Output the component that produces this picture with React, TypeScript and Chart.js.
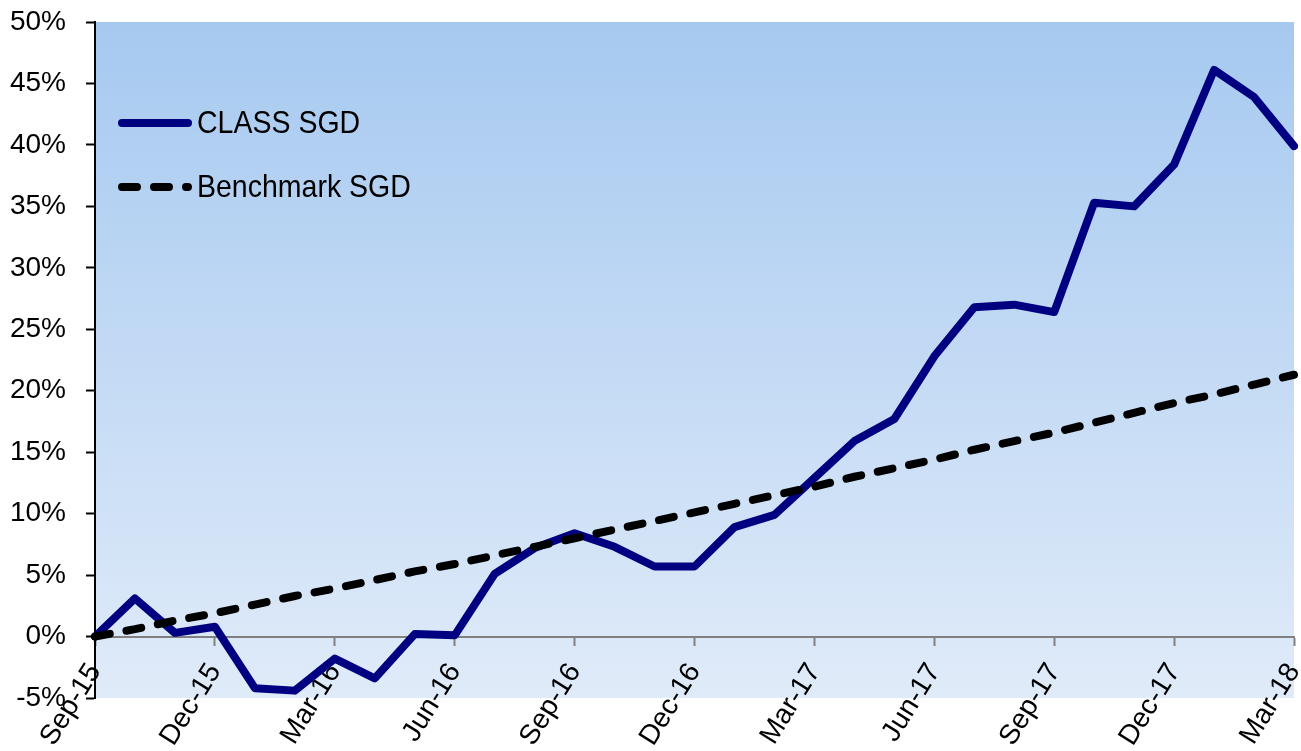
import React, { useEffect, useRef } from 'react';
import { Chart, registerables } from 'chart.js';

Chart.register(...registerables);

const months = [
  'Sep-15', 'Oct-15', 'Nov-15', 'Dec-15', 'Jan-16', 'Feb-16', 'Mar-16', 'Apr-16',
  'May-16', 'Jun-16', 'Jul-16', 'Aug-16', 'Sep-16', 'Oct-16', 'Nov-16', 'Dec-16',
  'Jan-17', 'Feb-17', 'Mar-17', 'Apr-17', 'May-17', 'Jun-17', 'Jul-17', 'Aug-17',
  'Sep-17', 'Oct-17', 'Nov-17', 'Dec-17', 'Jan-18', 'Feb-18', 'Mar-18',
];

const classSgd = [
  0.0, 3.1, 0.3, 0.8, -4.2, -4.4, -1.8, -3.4, 0.2, 0.1, 5.1, 7.2, 8.4, 7.3, 5.7, 5.7,
  8.9, 9.9, 12.9, 15.9, 17.7, 22.8, 26.8, 27.0, 26.4, 35.3, 35.0, 38.4, 46.1, 43.9, 39.9,
];

const benchmarkSgd = [
  0.0, 0.6, 1.3, 1.9, 2.6, 3.3, 3.9, 4.6, 5.3, 5.9, 6.6, 7.3, 8.0, 8.7, 9.4, 10.1,
  10.8, 11.5, 12.2, 13.0, 13.7, 14.4, 15.2, 15.9, 16.6, 17.4, 18.2, 19.0, 19.7, 20.5, 21.3,
];

const seriesNames = ['CLASS SGD', 'Benchmark SGD'];

const FONT = "'Liberation Sans', Arial, sans-serif";

const backgroundPlugin = {
  id: 'plotBackground',
  beforeDraw(chart: any) {
    const { ctx, chartArea } = chart;
    if (!chartArea) return;
    const g = ctx.createLinearGradient(0, chartArea.top, 0, chartArea.bottom);
    g.addColorStop(0, 'rgb(166,201,240)');
    g.addColorStop(1, 'rgb(224,235,249)');
    ctx.save();
    ctx.fillStyle = g;
    ctx.fillRect(chartArea.left, chartArea.top, chartArea.right - chartArea.left, chartArea.bottom - chartArea.top);
    ctx.restore();
  },
};

const legendPlugin = {
  id: 'insideLegend',
  afterDatasetsDraw(chart: any) {
    const { ctx, chartArea } = chart;
    const x0 = chartArea.left + 27;
    const x1 = chartArea.left + 93;
    const rows = [chartArea.top + 101, chartArea.top + 165];
    ctx.save();
    [0, 1].forEach((di, r) => {
      const ds = chart.data.datasets[di];
      ctx.strokeStyle = ds.borderColor;
      ctx.lineWidth = ds.borderWidth;
      ctx.lineCap = 'round';
      ctx.setLineDash(ds.borderDash || []);
      ctx.beginPath();
      ctx.moveTo(x0, rows[r]);
      ctx.lineTo(x1, rows[r]);
      ctx.stroke();
      ctx.setLineDash([]);
      ctx.fillStyle = '#000';
      ctx.font = `28.5px ${FONT}`;
      ctx.textBaseline = 'middle';
      ctx.textAlign = 'left';
      ctx.save();
      ctx.translate(chartArea.left + 102, rows[r] + 1);
      ctx.scale(1, 1.12);
      ctx.fillText(ds.label, 0, 0);
      ctx.restore();
    });
    ctx.restore();
  },
};

export default function App() {
  const ref = useRef<HTMLCanvasElement>(null);

  useEffect(() => {
    if (!ref.current) return;
    const chart = new Chart(ref.current, {
      type: 'line',
      data: {
        labels: months,
        datasets: [
          {
            label: seriesNames[0],
            data: classSgd,
            borderColor: '#000080',
            borderWidth: 8,
            pointRadius: 0,
            tension: 0,
            borderJoinStyle: 'round',
            borderCapStyle: 'round',
            fill: false,
            order: 1,
          },
          {
            label: seriesNames[1],
            data: benchmarkSgd,
            borderColor: '#000000',
            borderWidth: 8,
            borderDash: [15, 17],
            borderCapStyle: 'round',
            pointRadius: 0,
            tension: 0,
            fill: false,
            order: 0,
          },
        ],
      },
      options: {
        responsive: false,
        animation: false,
        layout: { autoPadding: false, padding: { top: 22, right: 7, bottom: 53, left: 0 } },
        plugins: {
          legend: { display: false },
          tooltip: { enabled: false },
        },
        scales: {
          x: {
            type: 'category',
            position: { y: 0 },
            offset: false,
            grid: {
              drawOnChartArea: false,
              drawTicks: true,
              tickLength: 8,
              tickWidth: 2,
              tickColor: (c: any) => (c.index % 3 === 0 ? '#808080' : 'rgba(0,0,0,0)'),
            },
            border: { color: '#808080', width: 2 },
            ticks: {
              autoSkip: false,
              minRotation: 58,
              maxRotation: 58,
              padding: 13,
              color: '#000',
              font: { family: FONT, size: 28 },
              callback: (_v: any, i: number) => (i % 3 === 0 ? months[i] : ''),
            },
            afterFit: (s: any) => {
              s.paddingLeft = 0;
              s.paddingRight = 0;
              s.paddingTop = 0;
              s.paddingBottom = 0;
            },
          },
          y: {
            type: 'linear',
            min: -5,
            max: 50,
            grid: {
              drawOnChartArea: false,
              drawTicks: true,
              tickLength: 9,
              tickWidth: 2,
              tickColor: '#000',
            },
            border: { color: '#000', width: 2 },
            ticks: {
              stepSize: 5,
              padding: 20,
              color: '#000',
              font: { family: FONT, size: 28 },
              callback: (v: any) => `${v}%`,
            },
            afterFit: (s: any) => {
              s.width = 95;
              s.paddingTop = 0;
              s.paddingBottom = 0;
            },
          },
        },
      },
      plugins: [backgroundPlugin, legendPlugin],
    } as any);
    return () => chart.destroy();
  }, []);

  return (
    <div style={{ position: 'fixed', left: 0, top: 0, width: 1301, height: 751, background: '#fff' }}>
      <canvas ref={ref} width={1301} height={751} style={{ display: 'block' }} />
    </div>
  );
}
